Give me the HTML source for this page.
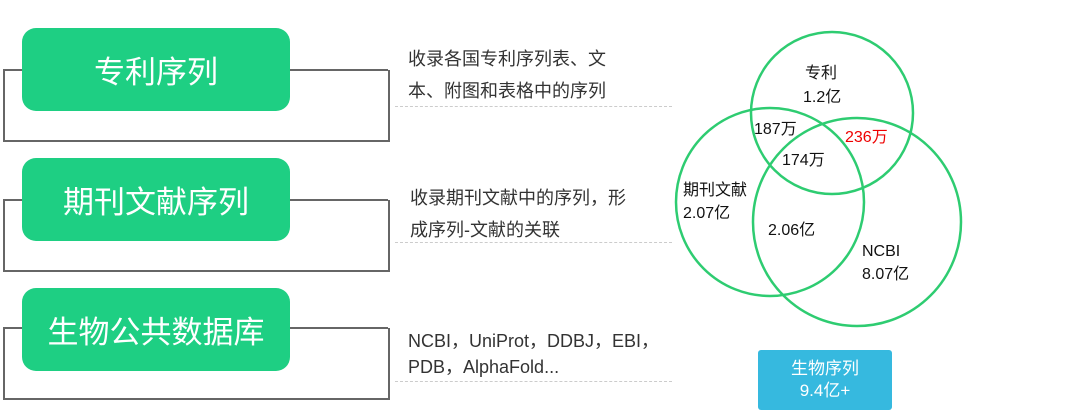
<!DOCTYPE html>
<html><head><meta charset="utf-8"><style>
body{margin:0;width:1080px;height:419px;background:#fff;position:relative;overflow:hidden;font-family:"Liberation Sans","Noto Sans CJK SC",sans-serif;}
.box{position:absolute;left:22px;width:268px;height:83px;background:#1ecf83;border-radius:14px;color:#fff;font-size:31px;display:flex;align-items:center;justify-content:center;}
.br{position:absolute;left:3px;width:383px;height:70px;border:2px solid #666;border-top:none;}
.tl{position:absolute;height:2px;background:#666;}
.t{position:absolute;left:408px;font-size:18px;color:#333;line-height:32px;}
.d{position:absolute;left:395px;width:277px;border-top:1px dashed #ccc;}
.l{position:absolute;font-size:16px;color:#111;line-height:22px;}
</style></head><body>
<div class="br" style="top:70px"></div><div class="tl" style="left:3px;top:69px;width:20px"></div><div class="tl" style="left:290px;top:69px;width:98px"></div>
<div class="br" style="top:200px"></div><div class="tl" style="left:3px;top:199px;width:20px"></div><div class="tl" style="left:290px;top:199px;width:98px"></div>
<div class="br" style="top:328px"></div><div class="tl" style="left:3px;top:327px;width:20px"></div><div class="tl" style="left:290px;top:327px;width:98px"></div>
<div class="box" style="top:28px">专利序列</div>
<div class="box" style="top:158px">期刊文献序列</div>
<div class="box" style="top:288px">生物公共数据库</div>
<div class="t" style="top:43px">收录各国专利序列表、文<br>本、附图和表格中的序列</div>
<div class="d" style="top:106px"></div>
<div class="t" style="top:182px;left:410px">收录期刊文献中的序列，形<br>成序列-文献的关联</div>
<div class="d" style="top:242px"></div>
<div class="t" style="top:328px;line-height:26px">NCBI，UniProt，DDBJ，EBI，<br>PDB，AlphaFold...</div>
<div class="d" style="top:381px"></div>
<svg style="position:absolute;left:0;top:0" width="1080" height="419">
<g fill="none" stroke="#2ecc71" stroke-width="2.5">
<circle cx="832" cy="113" r="81"/>
<circle cx="770" cy="202" r="94"/>
<circle cx="857" cy="222" r="104"/>
</g></svg>
<div class="l" style="left:805px;top:63px">专利</div>
<div class="l" style="left:803px;top:87px">1.2亿</div>
<div class="l" style="left:754px;top:119px">187万</div>
<div class="l" style="left:845px;top:127px;color:#e00">236万</div>
<div class="l" style="left:782px;top:150px">174万</div>
<div class="l" style="left:683px;top:180px">期刊文献</div>
<div class="l" style="left:683px;top:203px">2.07亿</div>
<div class="l" style="left:768px;top:220px">2.06亿</div>
<div class="l" style="left:862px;top:241px">NCBI</div>
<div class="l" style="left:862px;top:264px">8.07亿</div>
<div style="position:absolute;left:758px;top:350px;width:134px;height:60px;background:#36b9df;border-radius:3px;color:#fff;font-size:17px;line-height:22px;text-align:center;padding-top:8px;box-sizing:border-box">生物序列<br>9.4亿+</div>
</body></html>
